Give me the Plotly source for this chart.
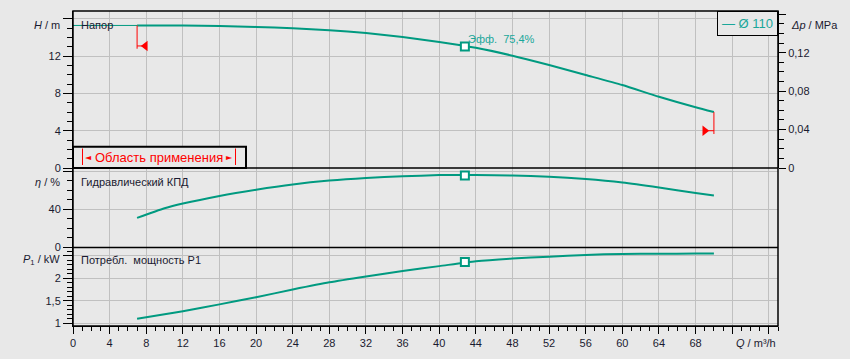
import plotly.graph_objects as go

# ---------------- data ----------------
Q = [7, 10, 12, 16, 20, 24, 28, 32, 36, 40, 44, 48, 52, 56, 60, 64, 68, 70]
H = [15.3, 15.3, 15.29, 15.24, 15.14, 14.99, 14.79, 14.48, 14.06, 13.53,
     12.9, 12.05, 11.05, 9.98, 8.9, 7.65, 6.52, 6.0]
ETA = [31, 41, 46, 54, 60.5, 66, 70, 72.7, 74.5, 75.8, 76, 75.3, 74, 71.6,
       68, 62.8, 57, 54.3]
P1 = [1.10, 1.2, 1.27, 1.42, 1.58, 1.75, 1.91, 2.04, 2.16, 2.27, 2.38, 2.44,
      2.48, 2.52, 2.54, 2.545, 2.55, 2.55]

Q_SHUTOFF = [0, 7]
H_SHUTOFF = [15.3, 15.3]

Q_OPT = 42.8
H_OPT = 13.05
ETA_OPT = 75.4
P1_OPT = 2.36

Q_LIMITS = [7, 70]
H_LIMIT_ARROW = [13.1, 4.0]
H_LIMIT_END = [12.8, 3.65]

X_TICKS = list(range(0, 77, 4))
X_TICKTEXT = [str(v) for v in X_TICKS[:-2]] + ["", ""]
H_TICKS = [0, 4, 8, 12, 16]
H_TICKTEXT = ["0", "4", "8", "12", ""]
DP_TICKS = [0, 0.04, 0.08, 0.12, 0.16]
DP_TICKTEXT = ["0", "0,04", "0,08", "0,12", ""]
ETA_TICKS = [0, 40, 80]
ETA_TICKTEXT = ["0", "40", ""]
P_TICKS = [1, 1.5, 2, 2.5]
P_TICKTEXT = ["1", "1,5", "2", ""]
X_RANGE = [0, 77]
H_RANGE = [0, 16.85]
DP_RANGE = [0, 0.1634]
ETA_RANGE = [0, 83.2]
P_RANGE = [0.94, 2.684]

# ---------------- style ----------------
BG = "#E8E8E8"
GRID = "#C0C0C0"
TEAL = "#009A80"
TEAL_TXT = "#1AA79A"
RED = "#FF0000"
FONT = "Liberation Sans, Arial, sans-serif"
TXT = "#1a1a30"

W, HGT = 850, 359
L, R, T, B = 73, 72, 11, 33
PW, PH = W - L - R, HGT - T - B


def xp(px):
    return (px - L) / PW


def yp(py):
    return (HGT - B - py) / PH


D_TOP = [yp(168), 1]
D_MID = [yp(247.5), yp(168)]
D_BOT = [0, yp(247.5)]

fig = go.Figure()

# invisible trace to activate the Δp axis
fig.add_trace(go.Scatter(x=X_RANGE, y=DP_RANGE, mode="lines", line=dict(width=0, color="rgba(0,0,0,0)"),
                         yaxis="y2", hoverinfo="skip"))

# head
fig.add_trace(go.Scatter(x=Q_SHUTOFF, y=H_SHUTOFF, mode="lines",
                         line=dict(color=TEAL, width=1), yaxis="y", hoverinfo="skip"))
fig.add_trace(go.Scatter(x=Q, y=H, mode="lines", line=dict(color=TEAL, width=2, shape="spline", smoothing=0.6),
                         yaxis="y"))
# efficiency
fig.add_trace(go.Scatter(x=Q, y=ETA, mode="lines", line=dict(color=TEAL, width=2, shape="spline", smoothing=0.6),
                         yaxis="y3"))
# power
fig.add_trace(go.Scatter(x=Q, y=P1, mode="lines", line=dict(color=TEAL, width=2, shape="spline", smoothing=0.6),
                         yaxis="y4"))

# operating point markers
mk = dict(symbol="square", size=8, color="white", line=dict(color=TEAL, width=2))
fig.add_trace(go.Scatter(x=[Q_OPT], y=[H_OPT], mode="markers", marker=mk, yaxis="y"))
fig.add_trace(go.Scatter(x=[Q_OPT], y=[ETA_OPT], mode="markers", marker=mk, yaxis="y3"))
fig.add_trace(go.Scatter(x=[Q_OPT], y=[P1_OPT], mode="markers", marker=mk, yaxis="y4"))

# application-range limits (red)
fig.add_trace(go.Scatter(x=[Q_LIMITS[0], Q_LIMITS[0]], y=[H[0], H_LIMIT_END[0]], mode="lines",
                         line=dict(color=RED, width=1), yaxis="y"))
fig.add_trace(go.Scatter(x=[Q_LIMITS[0], Q_LIMITS[0] + 0.6], y=[H_LIMIT_ARROW[0]] * 2, mode="lines",
                         line=dict(color=RED, width=1), yaxis="y"))
fig.add_trace(go.Scatter(x=[Q_LIMITS[0] + 0.9], y=[H_LIMIT_ARROW[0]], mode="markers",
                         marker=dict(symbol="triangle-left", size=9, color=RED), yaxis="y"))
fig.add_trace(go.Scatter(x=[Q_LIMITS[1], Q_LIMITS[1]], y=[H[-1], H_LIMIT_END[1]], mode="lines",
                         line=dict(color=RED, width=1), yaxis="y"))
fig.add_trace(go.Scatter(x=[Q_LIMITS[1] - 0.6, Q_LIMITS[1]], y=[H_LIMIT_ARROW[1]] * 2, mode="lines",
                         line=dict(color=RED, width=1), yaxis="y"))
fig.add_trace(go.Scatter(x=[Q_LIMITS[1] - 1.0], y=[H_LIMIT_ARROW[1]], mode="markers",
                         marker=dict(symbol="triangle-right", size=9, color=RED), yaxis="y"))

tickfont = dict(family=FONT, size=11, color=TXT)


def minor(dt, ln=5):
    return dict(tickmode="linear", tick0=0, dtick=dt, ticks="outside", ticklen=ln,
                tickcolor="black", tickwidth=1, showgrid=False)


def yax(domain, rng, tv, tt, minor_dt, **kw):
    d = dict(domain=domain, range=rng, anchor="x", tickmode="array", tickvals=tv, ticktext=tt,
             ticks="outside", ticklen=9, tickcolor="black", tickwidth=1,
             minor=minor(minor_dt),
             showgrid=True, gridcolor=GRID, gridwidth=1, zeroline=False,
             showline=True, linecolor="black", linewidth=1, tickfont=tickfont, fixedrange=True)
    d.update(kw)
    return d


fig.update_layout(
    width=W, height=HGT, margin=dict(l=L, r=R, t=T, b=B, pad=0),
    paper_bgcolor=BG, plot_bgcolor=BG, showlegend=False, separators=", ",
    font=dict(family=FONT, size=11, color=TXT),
    xaxis=dict(range=X_RANGE, anchor="y4", tickmode="array", tickvals=X_TICKS, ticktext=X_TICKTEXT,
               ticks="outside", ticklen=7, tickcolor="black", minor=minor(1, 4),
               showgrid=True, gridcolor=GRID, gridwidth=1, zeroline=False, showline=True,
               linecolor="black", tickfont=tickfont, fixedrange=True),
    yaxis=yax(D_TOP, H_RANGE, H_TICKS, H_TICKTEXT, 1),
    yaxis2=dict(overlaying="y", side="right", anchor="x", range=DP_RANGE, tickmode="array",
                tickvals=DP_TICKS, ticktext=DP_TICKTEXT, ticks="outside", ticklen=7, tickcolor="black",
                minor=minor(0.01), showgrid=False, zeroline=False, showline=True,
                linecolor="black", tickfont=tickfont, fixedrange=True),
    yaxis3=yax(D_MID, ETA_RANGE, ETA_TICKS, ETA_TICKTEXT, 10),
    yaxis4=yax(D_BOT, P_RANGE, P_TICKS, P_TICKTEXT, 0.1),
)

# frame and panel separators
fig.add_shape(type="rect", xref="paper", yref="paper", x0=0, x1=1, y0=0, y1=1,
              fillcolor="rgba(0,0,0,0)", line=dict(color="black", width=1.5), layer="above")
for yy in (D_MID[1], D_BOT[1]):
    fig.add_shape(type="line", xref="paper", yref="paper", x0=0, x1=1, y0=yy, y1=yy,
                  line=dict(color="black", width=1.5), layer="above")

# application range box
fig.add_shape(type="rect", xref="paper", yref="paper", x0=xp(73), x1=xp(246), y0=yp(168), y1=yp(146.7),
              fillcolor=BG, line=dict(color="black", width=2), layer="above")
for bx in (82.5, 235.5):
    fig.add_shape(type="line", xref="paper", yref="paper", x0=xp(bx), x1=xp(bx), y0=yp(165), y1=yp(148.5),
                  line=dict(color=RED, width=1), layer="above")
fig.add_annotation(xref="paper", yref="paper", x=xp(83), y=yp(157), xanchor="left", yanchor="middle",
                   text="◄", showarrow=False, font=dict(family="DejaVu Sans", size=8, color=RED))
fig.add_annotation(xref="paper", yref="paper", x=xp(235), y=yp(157), xanchor="right", yanchor="middle",
                   text="►", showarrow=False, font=dict(family="DejaVu Sans", size=8, color=RED))
fig.add_annotation(xref="paper", yref="paper", x=xp(159), y=yp(157), xanchor="center", yanchor="middle",
                   text="Область применения", showarrow=False, font=dict(family=FONT, size=13, color=RED))

# legend box
fig.add_annotation(xref="paper", yref="paper", x=1, y=1, xanchor="right", yanchor="top",
                   text="— Ø 110", showarrow=False, font=dict(family=FONT, size=13, color=TEAL_TXT),
                   bordercolor="black", borderwidth=1, borderpad=4, bgcolor=BG)

# efficiency label
fig.add_annotation(x=Q_OPT, y=H_OPT, xref="x", yref="y", xanchor="left", yanchor="middle",
                   xshift=1, yshift=7, text="Эфф.  75,4%", showarrow=False,
                   font=dict(family=FONT, size=11, color=TEAL_TXT))

# panel labels
for txt, py in (("Напор", 25), ("Гидравлический КПД", 181.5), ("Потребл.  мощность P1", 260)):
    fig.add_annotation(xref="paper", yref="paper", x=xp(79), y=yp(py), xanchor="left", yanchor="middle",
                       text=txt, showarrow=False, font=dict(family=FONT, size=11, color=TXT))

# axis titles
for txt, py in (("<i>H</i> / m", 25), ("<i>η</i> / %", 181.5), ("<i>P</i><sub>1</sub> / kW", 260)):
    fig.add_annotation(xref="paper", yref="paper", x=xp(62), y=yp(py), xanchor="right", yanchor="middle",
                       text=txt, showarrow=False, font=dict(family=FONT, size=11, color=TXT))
fig.add_annotation(xref="paper", yref="paper", x=xp(789), y=yp(25), xanchor="left", yanchor="middle",
                   text="<i>Δp</i> / MPa", showarrow=False, font=dict(family=FONT, size=11, color=TXT))
fig.add_annotation(xref="paper", yref="paper", x=xp(778), y=yp(343), xanchor="right", yanchor="middle",
                   text="<i>Q</i> / m³/h", showarrow=False, font=dict(family=FONT, size=11, color=TXT))

fig.write_html("out.html")
